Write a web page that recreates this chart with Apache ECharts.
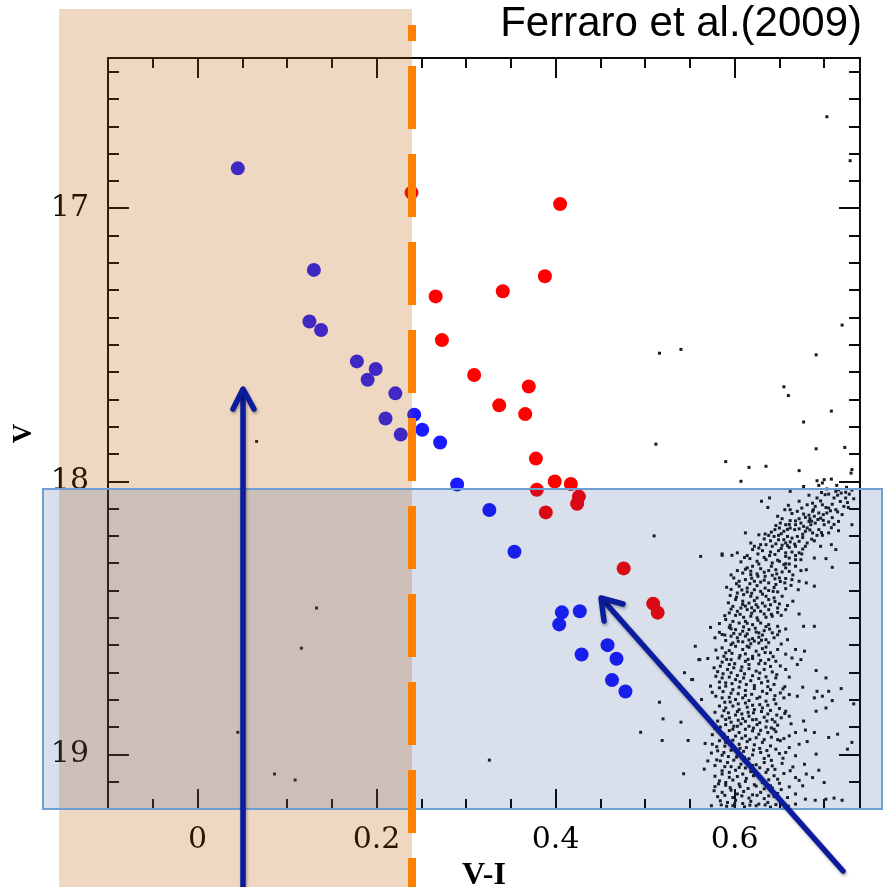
<!DOCTYPE html>
<html>
<head>
<meta charset="utf-8">
<script src="https://cdn.jsdelivr.net/npm/echarts@6/dist/echarts.min.js"></script>
<style>html,body{margin:0;padding:0;background:#fff;}#c{width:883px;height:887px;}</style>
</head>
<body>
<div id="c"></div>
<script>
// ---- axis ticks & labels ----
const xMajor = [0, 0.2, 0.4, 0.6];
const xMajorLabels = ['0', '0.2', '0.4', '0.6'];
const xMinor = [-0.05, 0.05, 0.1, 0.15, 0.25, 0.3, 0.35, 0.45, 0.5, 0.55, 0.65, 0.7];
const yMajor = [17, 18, 19];
const yMajorLabels = ['17', '18', '19'];
const yMinor = [16.5, 16.6, 16.7, 16.8, 16.9, 17.1, 17.2, 17.3, 17.4, 17.5, 17.6, 17.7, 17.8, 17.9,
                18.1, 18.2, 18.3, 18.4, 18.5, 18.6, 18.7, 18.8, 18.9, 19.1];

// ---- star samples [V-I, V] ----
const blueStars = [
[0.045,16.854],[0.130,17.226],[0.125,17.415],[0.138,17.446],[0.178,17.561],[0.199,17.589],[0.190,17.628],[0.221,17.678],
[0.210,17.770],[0.227,17.829],[0.242,17.756],[0.251,17.811],[0.271,17.858],[0.290,18.012],[0.326,18.105],[0.354,18.258],
[0.407,18.480],[0.404,18.524],[0.427,18.476],[0.429,18.634],[0.458,18.600],[0.468,18.650],[0.463,18.728],[0.478,18.770]
];
const redStars = [
[0.239,16.943],[0.405,16.985],[0.388,17.249],[0.266,17.323],[0.341,17.304],[0.273,17.483],[0.309,17.611],[0.370,17.653],
[0.337,17.722],[0.366,17.754],[0.378,17.917],[0.399,18.001],[0.417,18.010],[0.379,18.031],[0.426,18.056],[0.424,18.082],
[0.389,18.114],[0.476,18.319],[0.509,18.448],[0.514,18.481]
];
const msUpper = [
[0.616,17.949],[0.635,17.945],[0.672,17.961],[0.731,17.957],[0.730,17.970],[0.607,18.000],[0.692,17.998],[0.700,17.994],[0.708,17.992],[0.698,18.006],
[0.714,18.015],[0.694,18.015],[0.677,18.019],[0.725,18.022],[0.662,18.037],[0.713,18.037],[0.719,18.043],[0.724,18.040],[0.701,18.049],[0.705,18.047],
[0.715,18.051],[0.728,18.047],[0.639,18.061],[0.630,18.073],[0.692,18.061],[0.683,18.051],[0.724,18.061],[0.672,18.073],[0.681,18.086],[0.690,18.092],
[0.698,18.086],[0.702,18.096],[0.705,18.098],[0.722,18.092],[0.727,18.096],[0.733,18.064],[0.637,18.096],[0.660,18.088],[0.656,18.104],[0.670,18.110],
[0.677,18.120],[0.687,18.110],[0.694,18.116],[0.699,18.122],[0.703,18.116],[0.713,18.104],[0.720,18.122],[0.648,18.128],[0.653,18.137],[0.662,18.144],
[0.672,18.137],[0.679,18.132],[0.689,18.128],[0.696,18.135],[0.683,18.147],[0.651,18.153],[0.657,18.159],[0.668,18.159],[0.674,18.153],[0.677,18.165],
[0.685,18.159],[0.690,18.153],[0.700,18.159],[0.705,18.149],[0.716,18.147],[0.731,18.159],[0.645,18.177],[0.650,18.171],[0.655,18.183],[0.662,18.171],
[0.667,18.177],[0.672,18.174],[0.679,18.183],[0.687,18.189],[0.692,18.198],[0.698,18.198],[0.705,18.189],[0.716,18.181],[0.612,18.189],[0.627,18.196],
[0.634,18.193],[0.638,18.198],[0.644,18.202],[0.649,18.198],[0.659,18.202],[0.664,18.208],[0.670,18.202],[0.640,18.218],[0.649,18.214],[0.657,18.226],
[0.662,18.222],[0.667,18.230],[0.672,18.220],[0.681,18.226],[0.622,18.238],[0.629,18.232],[0.635,18.232],[0.642,18.238],[0.653,18.234],[0.661,18.242],
[0.668,18.238],[0.696,18.238],[0.708,18.232],[0.713,18.250],[0.620,18.250],[0.631,18.254],[0.640,18.259],[0.649,18.254],[0.657,18.262],[0.664,18.259],
[0.672,18.262],[0.679,18.238],[0.586,18.266]
];
const msMiddle = [
[0.562,18.275],[0.586,18.271],[0.597,18.271],[0.614,18.272],[0.657,18.275],[0.661,18.281],[0.668,18.272],[0.674,18.287],[0.689,18.281],[0.702,18.283],
[0.709,18.315],[0.607,18.295],[0.625,18.293],[0.635,18.287],[0.642,18.299],[0.650,18.293],[0.655,18.305],[0.661,18.303],[0.668,18.311],[0.680,18.324],
[0.674,18.327],[0.620,18.311],[0.614,18.317],[0.629,18.320],[0.638,18.327],[0.646,18.324],[0.653,18.332],[0.661,18.330],[0.609,18.336],[0.618,18.342],
[0.625,18.339],[0.634,18.348],[0.642,18.344],[0.650,18.354],[0.657,18.356],[0.664,18.360],[0.672,18.366],[0.599,18.354],[0.612,18.360],[0.622,18.366],
[0.629,18.369],[0.638,18.372],[0.646,18.378],[0.680,18.372],[0.689,18.384],[0.591,18.388],[0.605,18.384],[0.614,18.391],[0.622,18.397],[0.629,18.403],
[0.638,18.400],[0.648,18.405],[0.657,18.393],[0.603,18.409],[0.610,18.415],[0.618,18.421],[0.625,18.427],[0.635,18.421],[0.644,18.427],[0.601,18.433],
[0.609,18.439],[0.616,18.446],[0.624,18.452],[0.631,18.446],[0.640,18.452],[0.650,18.449],[0.665,18.439],[0.598,18.458],[0.607,18.464],[0.614,18.470],
[0.622,18.474],[0.629,18.476],[0.638,18.470],[0.648,18.464],[0.657,18.470],[0.672,18.486],[0.594,18.482],[0.601,18.491],[0.610,18.498],[0.618,18.494],
[0.625,18.500],[0.635,18.498],[0.642,18.494],[0.652,18.491],[0.590,18.506],[0.598,18.513],[0.605,18.519],[0.612,18.513],[0.620,18.525],[0.629,18.519],
[0.638,18.525],[0.648,18.531],[0.573,18.535],[0.594,18.535],[0.601,18.543],[0.609,18.549],[0.616,18.543],[0.624,18.552],[0.633,18.547],[0.642,18.555],
[0.650,18.549],[0.677,18.531],[0.689,18.531],[0.578,18.573],[0.586,18.561],[0.596,18.567],[0.603,18.573],[0.612,18.567],[0.620,18.576],[0.627,18.571],
[0.635,18.580],[0.644,18.573],[0.659,18.580],[0.598,18.592],[0.609,18.588],[0.618,18.595],[0.627,18.592]
];
const msLower = [
[0.560,18.653],[0.570,18.649],[0.553,18.726],[0.563,18.799],[0.586,18.610],[0.594,18.620],[0.601,18.604],[0.609,18.616],[0.616,18.608],[0.624,18.622],
[0.631,18.613],[0.640,18.628],[0.648,18.616],[0.668,18.616],[0.678,18.622],[0.581,18.647],[0.588,18.641],[0.596,18.653],[0.605,18.647],[0.612,18.659],
[0.620,18.649],[0.629,18.656],[0.638,18.653],[0.646,18.659],[0.664,18.647],[0.674,18.653],[0.577,18.683],[0.584,18.677],[0.592,18.689],[0.599,18.683],
[0.607,18.693],[0.616,18.686],[0.624,18.695],[0.633,18.689],[0.642,18.698],[0.657,18.689],[0.670,18.671],[0.691,18.693],[0.702,18.720],[0.579,18.714],
[0.586,18.720],[0.594,18.717],[0.601,18.726],[0.610,18.720],[0.618,18.730],[0.627,18.722],[0.637,18.732],[0.646,18.720],[0.661,18.717],[0.676,18.754],
[0.573,18.750],[0.583,18.756],[0.590,18.750],[0.598,18.763],[0.605,18.754],[0.612,18.766],[0.622,18.759],[0.631,18.769],[0.640,18.763],[0.651,18.775],
[0.661,18.781],[0.670,18.787],[0.692,18.769],[0.705,18.769],[0.719,18.759],[0.689,18.793],[0.698,18.787],[0.579,18.787],[0.586,18.793],[0.594,18.791],
[0.601,18.799],[0.609,18.793],[0.616,18.803],[0.625,18.795],[0.635,18.805],[0.644,18.799],[0.655,18.793],[0.583,18.823],[0.590,18.830],[0.598,18.823],
[0.605,18.836],[0.614,18.827],[0.622,18.836],[0.631,18.830],[0.640,18.839],[0.650,18.832],[0.657,18.842],[0.691,18.842],[0.702,18.830],[0.709,18.803],
[0.733,18.815],[0.586,18.860],[0.594,18.866],[0.601,18.856],[0.609,18.869],[0.616,18.860],[0.624,18.872],[0.633,18.864],[0.642,18.872],[0.652,18.866],
[0.661,18.860],[0.677,18.878],[0.590,18.891],[0.599,18.897],[0.607,18.888],[0.616,18.897],[0.625,18.891],[0.635,18.900],[0.648,18.893]
];
const msBottom = [
[0.567,18.960],[0.575,18.963],[0.570,19.024],[0.566,19.054],[0.577,19.133],[0.581,18.914],[0.588,18.926],[0.598,18.908],[0.605,18.920],[0.612,18.932],
[0.620,18.914],[0.627,18.926],[0.637,18.920],[0.644,18.908],[0.661,18.932],[0.668,18.920],[0.679,18.911],[0.689,18.920],[0.705,18.938],[0.715,18.926],
[0.731,18.956],[0.583,18.950],[0.590,18.956],[0.598,18.948],[0.605,18.963],[0.614,18.953],[0.622,18.965],[0.631,18.956],[0.640,18.969],[0.651,18.950],
[0.661,18.975],[0.672,18.963],[0.681,18.953],[0.726,18.981],[0.581,18.987],[0.588,18.993],[0.596,18.985],[0.603,18.999],[0.610,18.989],[0.620,19.002],
[0.629,18.993],[0.638,19.005],[0.650,18.997],[0.657,18.993],[0.668,19.005],[0.691,18.999],[0.584,19.024],[0.592,19.030],[0.599,19.021],[0.607,19.036],
[0.614,19.026],[0.624,19.038],[0.633,19.030],[0.642,19.042],[0.653,19.033],[0.665,19.046],[0.678,19.036],[0.694,19.058],[0.586,19.060],[0.594,19.066],
[0.601,19.058],[0.609,19.072],[0.618,19.063],[0.625,19.075],[0.635,19.066],[0.644,19.078],[0.655,19.070],[0.668,19.085],[0.680,19.072],[0.687,19.085],
[0.700,19.103],[0.583,19.097],[0.590,19.103],[0.598,19.094],[0.605,19.109],[0.612,19.099],[0.622,19.111],[0.631,19.103],[0.640,19.115],[0.650,19.106],
[0.661,19.119],[0.676,19.115],[0.586,19.139],[0.596,19.131],[0.603,19.145],[0.610,19.136],[0.620,19.148],[0.629,19.139],[0.638,19.152],[0.648,19.143],
[0.659,19.158],[0.668,19.145],[0.679,19.164],[0.690,19.168],[0.702,19.164],[0.711,19.160],[0.720,19.168],[0.584,19.170],[0.592,19.176],[0.601,19.168],
[0.609,19.180],[0.618,19.172],[0.627,19.182],[0.637,19.176],[0.646,19.184],[0.655,19.180],[0.668,19.182],[0.598,19.188],[0.624,19.188]
];
const msCore = [
[0.703,18.028],[0.711,18.061],[0.718,18.074],[0.696,18.072],[0.687,18.080],[0.709,18.084],[0.716,18.031],[0.731,18.032],[0.726,18.078],[0.697,18.041],
[0.664,18.118],[0.683,18.124],[0.693,18.140],[0.709,18.133],[0.681,18.171],[0.661,18.158],[0.646,18.162],[0.708,18.170],[0.694,18.177],[0.676,18.194],
[0.652,18.192],[0.686,18.146],[0.715,18.112],[0.633,18.211],[0.652,18.246],[0.676,18.248],[0.645,18.268],[0.626,18.266],[0.686,18.212],[0.618,18.226],
[0.655,18.214],[0.668,18.287],[0.633,18.279],[0.648,18.289],[0.617,18.283],[0.603,18.262],[0.603,18.327],[0.618,18.329],[0.633,18.333],[0.647,18.339],
[0.657,18.317],[0.665,18.343],[0.605,18.366],[0.617,18.375],[0.633,18.362],[0.651,18.367],[0.663,18.381],[0.596,18.396],[0.608,18.398],[0.634,18.391],
[0.644,18.389],[0.671,18.397],[0.595,18.418],[0.614,18.405],[0.631,18.413],[0.653,18.421],[0.593,18.445],[0.612,18.457],[0.626,18.461],[0.645,18.440],
[0.659,18.455],[0.603,18.476],[0.619,18.483],[0.633,18.486],[0.648,18.480],[0.589,18.492],[0.583,18.521],[0.595,18.527],[0.610,18.533],[0.623,18.538],
[0.635,18.532],[0.657,18.541],[0.583,18.553],[0.599,18.557],[0.614,18.559],[0.631,18.563],[0.648,18.562],[0.590,18.583],[0.604,18.586],[0.622,18.585],
[0.638,18.591],[0.652,18.596],[0.579,18.618],[0.597,18.630],[0.612,18.632],[0.627,18.636],[0.643,18.642],[0.657,18.633],[0.586,18.662],[0.600,18.668],
[0.616,18.671],[0.634,18.667],[0.651,18.676],[0.581,18.697],[0.596,18.701],[0.611,18.705],[0.628,18.702],[0.647,18.708],[0.583,18.735],[0.597,18.741],
[0.613,18.744],[0.630,18.738],[0.644,18.744],[0.656,18.752],[0.587,18.770],[0.604,18.778],[0.619,18.780],[0.636,18.777],[0.654,18.760],[0.575,18.773],
[0.595,18.808],[0.612,18.812],[0.628,18.818],[0.646,18.815],[0.578,18.846],[0.593,18.848],[0.608,18.852],[0.621,18.848],[0.637,18.852],[0.656,18.850],
[0.581,18.878],[0.596,18.882],[0.612,18.879],[0.628,18.884],[0.645,18.881],[0.663,18.888],[0.584,18.900],[0.603,18.897],[0.621,18.904],[0.641,18.903],
[0.575,18.928],[0.592,18.938],[0.608,18.941],[0.624,18.939],[0.641,18.937],[0.655,18.942],[0.580,18.972],[0.597,18.968],[0.613,18.975],[0.628,18.978],
[0.646,18.981],[0.574,18.995],[0.593,19.008],[0.611,19.012],[0.633,19.015],[0.654,19.014],[0.578,19.041],[0.596,19.045],[0.612,19.050],[0.628,19.049],
[0.645,19.055],[0.662,19.060],[0.578,19.080],[0.594,19.084],[0.613,19.088],[0.628,19.085],[0.648,19.091],[0.672,19.095],[0.578,19.118],[0.595,19.122],
[0.615,19.125],[0.633,19.126],[0.652,19.129],[0.581,19.155],[0.598,19.158],[0.616,19.160],[0.633,19.162],[0.650,19.165],[0.591,19.190],[0.611,19.192],
[0.640,19.193],[0.660,19.190],[0.574,19.188]
];
const msDense = [
[0.662,18.104],[0.675,18.098],[0.688,18.104],[0.707,18.108],[0.684,18.137],[0.699,18.143],[0.668,18.145],[0.711,18.158],[0.659,18.176],[0.684,18.178],
[0.697,18.188],[0.641,18.186],[0.676,18.206],[0.689,18.218],[0.646,18.229],[0.659,18.236],[0.627,18.244],[0.675,18.266],[0.639,18.272],[0.611,18.279],
[0.627,18.303],[0.641,18.311],[0.657,18.302],[0.612,18.322],[0.626,18.348],[0.645,18.357],[0.596,18.343],[0.619,18.355],[0.656,18.372],[0.602,18.375],
[0.625,18.382],[0.643,18.403],[0.619,18.410],[0.602,18.424],[0.638,18.433],[0.622,18.437],[0.609,18.451],[0.634,18.457],[0.596,18.468],[0.619,18.463],
[0.641,18.487],[0.606,18.487],[0.626,18.509],[0.614,18.520],[0.596,18.540],[0.627,18.555],[0.606,18.560],[0.639,18.541],[0.589,18.563],[0.616,18.581],
[0.630,18.582],[0.596,18.598],[0.614,18.604],[0.635,18.607],[0.590,18.628],[0.606,18.638],[0.620,18.641],[0.634,18.627],[0.591,18.652],[0.615,18.652],
[0.627,18.668],[0.594,18.671],[0.608,18.680],[0.640,18.678],[0.587,18.705],[0.603,18.711],[0.620,18.712],[0.635,18.716],[0.590,18.738],[0.606,18.734],
[0.622,18.748],[0.637,18.752],[0.596,18.776],[0.612,18.784],[0.628,18.790],[0.645,18.785],[0.589,18.809],[0.604,18.815],[0.620,18.820],[0.637,18.820],
[0.588,18.840],[0.603,18.843],[0.615,18.846],[0.630,18.843],[0.647,18.856],[0.590,18.872],[0.604,18.875],[0.620,18.873],[0.636,18.878],[0.594,18.913],
[0.612,18.908],[0.629,18.912],[0.646,18.917],[0.587,18.936],[0.601,18.933],[0.617,18.945],[0.633,18.946],[0.648,18.946],[0.589,18.970],[0.606,18.978],
[0.621,18.984],[0.636,18.986],[0.586,19.003],[0.602,19.010],[0.616,19.016],[0.641,19.022],[0.589,19.045],[0.605,19.048],[0.620,19.041],[0.637,19.056],
[0.586,19.072],[0.603,19.081],[0.621,19.078],[0.638,19.093],[0.590,19.113],[0.606,19.118],[0.624,19.116],[0.642,19.123],[0.589,19.150],[0.608,19.152],
[0.625,19.150],[0.644,19.154],[0.600,19.181],[0.617,19.186],[0.634,19.185],[0.652,19.181],[0.585,19.185],[0.582,19.108],[0.580,19.020],[0.578,18.905]
];
const fieldSparse = [
[0.703,16.665],[0.729,16.826],[0.720,17.428],[0.516,17.531],[0.540,17.517],[0.691,17.537],[0.655,17.654],[0.660,17.686],[0.708,17.743],[0.677,17.783],
[0.512,17.864],[0.691,17.881],[0.723,17.876],[0.066,17.854],[0.133,18.464],[0.116,18.611],[0.045,18.919],[0.086,19.072],[0.109,19.094],[0.590,17.928],
[0.510,18.200],[0.326,19.021],[0.495,18.919],[0.519,18.949],[0.520,18.870],[0.516,18.809],[0.540,18.882],[0.543,19.071],[0.548,18.949],[0.544,18.701],
[0.552,18.726],[0.556,18.604],[0.561,18.653]
];

const fieldStars = [].concat(msUpper, msMiddle, msLower, msBottom, msCore, msDense, fieldSparse);

const AX = '#0a0a0a';
function lab(values, labels) {
  return function (v) {
    const i = values.findIndex(t => Math.abs(t - v) < 1e-6);
    return i >= 0 ? labels[i] : '';
  };
}
function xAx(pos, ticks, len, showLine, showLabel, extra) {
  return Object.assign({
    type: 'value', position: pos, min: -0.1, max: 0.74,
    axisLine: { show: showLine, onZero: false, lineStyle: { color: AX, width: 2 } },
    axisTick: { show: true, inside: true, length: len, customValues: ticks, lineStyle: { color: AX, width: 2 } },
    axisLabel: showLabel ? { show: true, customValues: xMajor, formatter: lab(xMajor, xMajorLabels),
      fontFamily: 'DejaVu Serif', fontSize: 30, color: '#000', margin: 16 } : { show: false },
    splitLine: { show: false }
  }, extra || {});
}
function yAx(pos, ticks, len, showLine, showLabel, extra) {
  return Object.assign({
    type: 'value', position: pos, min: 16.45, max: 19.2, inverse: true,
    axisLine: { show: showLine, onZero: false, lineStyle: { color: AX, width: 2 } },
    axisTick: { show: true, inside: true, length: len, customValues: ticks, lineStyle: { color: AX, width: 2 } },
    axisLabel: showLabel ? { show: true, customValues: yMajor, formatter: lab(yMajor, yMajorLabels),
      fontFamily: 'DejaVu Serif', fontSize: 30, color: '#000', margin: 19 } : { show: false },
    splitLine: { show: false }
  }, extra || {});
}

const chart = echarts.init(document.getElementById('c'), null, { renderer: 'canvas' });
const ARROW = '#0b1d9c';
const arrowStyle = { stroke: ARROW, lineWidth: 5.5, lineCap: 'round', lineJoin: 'round', fill: null,
  shadowBlur: 3, shadowColor: 'rgba(0,0,0,0.35)', shadowOffsetX: 1, shadowOffsetY: 2 };

chart.setOption({
  animation: false,
  backgroundColor: '#fff',
  grid: { left: 108, top: 58, width: 752, height: 751, containLabel: false, outerBoundsMode: 'none' },
  xAxis: [
    xAx('bottom', xMajor, 20, true, true, { name: 'V-I', nameLocation: 'middle', nameGap: 48,
      nameTextStyle: { fontFamily: 'Liberation Serif', fontWeight: 'bold', fontSize: 32, color: '#000' } }),
    xAx('bottom', xMinor, 10, false, false),
    xAx('top', xMajor, 20, true, false),
    xAx('top', xMinor, 10, false, false)
  ],
  yAxis: [
    yAx('left', yMajor, 21, true, true, { name: 'V', nameLocation: 'middle', nameGap: 70, nameRotate: 90,
      nameTextStyle: { fontFamily: 'Liberation Serif', fontWeight: 'bold', fontSize: 27, color: '#000' } }),
    yAx('left', yMinor, 11, false, false),
    yAx('right', yMajor, 21, true, false),
    yAx('right', yMinor, 11, false, false)
  ],
  series: [
    { type: 'scatter', name: 'field', data: fieldStars, symbol: 'rect', symbolSize: 3,
      itemStyle: { color: '#1a1a1a', opacity: 1 }, silent: true, z: 2 },
    { type: 'scatter', name: 'red', data: redStars, symbol: 'circle', symbolSize: 14,
      itemStyle: { color: '#ff0000', opacity: 1 }, silent: true, z: 3 },
    { type: 'scatter', name: 'blue', data: blueStars, symbol: 'circle', symbolSize: 14,
      itemStyle: { color: '#1a1aff', opacity: 1 }, silent: true, z: 4 }
  ],
  graphic: [
    { type: 'rect', z: 100, silent: true, shape: { x: 59, y: 9, width: 353, height: 878 },
      style: { fill: 'rgba(190,90,0,0.24)' } },
    { type: 'rect', z: 101, silent: true, shape: { x: 43, y: 489, width: 839, height: 320 },
      style: { fill: 'rgba(20,60,130,0.16)', stroke: '#6d9fd3', lineWidth: 2 } },
    { type: 'line', z: 102, silent: true, shape: { x1: 412, y1: 25, x2: 412, y2: 887 },
      style: { stroke: '#ff8000', lineWidth: 8, lineDash: [63, 25], lineDashOffset: 47 } },
    { type: 'polyline', z: 103, silent: true, shape: { points: [[243, 887], [243, 391]] }, style: arrowStyle },
    { type: 'polyline', z: 103, silent: true, shape: { points: [[233, 409], [243, 389], [254, 409]] }, style: arrowStyle },
    { type: 'polyline', z: 103, silent: true, shape: { points: [[843, 871], [603, 600]] }, style: arrowStyle },
    { type: 'polyline', z: 103, silent: true, shape: { points: [[623, 604], [601, 598], [604, 621]] }, style: arrowStyle },
    { type: 'text', z: 104, silent: true, x: 862, y: 24.5,
      style: { text: 'Ferraro et al.(2009)', align: 'right', verticalAlign: 'middle',
        fontSize: 42, fontFamily: 'Liberation Sans', fill: '#000' } }
  ]
});
</script>
</body>
</html>
